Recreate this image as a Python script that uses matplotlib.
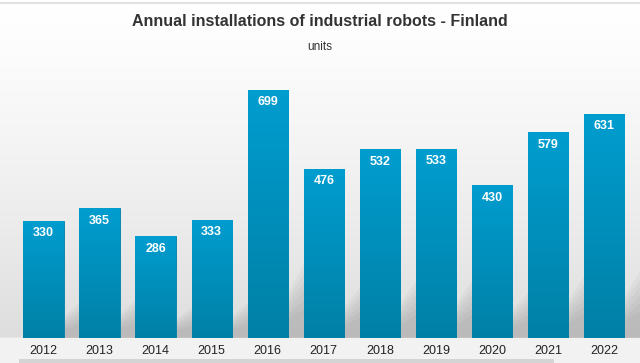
import numpy as np
import matplotlib.pyplot as plt
from matplotlib.patches import Polygon

plt.rcParams['font.family'] = ['Liberation Sans', 'DejaVu Sans']

years = ['2012', '2013', '2014', '2015', '2016', '2017', '2018', '2019', '2020', '2021', '2022']
units = [330, 365, 286, 333, 699, 476, 532, 533, 430, 579, 631]

title = 'Annual installations of industrial robots - Finland'
subtitle = 'units'

fig = plt.figure(figsize=(6.4, 3.63), dpi=100)

# background gradient, white at top to light grey near the bottom
bg = fig.add_axes([0, 0, 1, 1], zorder=0)
g = np.linspace(0, 1, 256)
shade = 1.0 - 0.13 * np.clip(g / 0.93, 0, 1) ** 1.3
shade[g > 0.93] = 0.95
bg_col = np.repeat(shade.reshape(-1, 1, 1), 3, axis=2)
bg.imshow(bg_col, aspect='auto', extent=[0, 1, 0, 1], origin='upper')
bg.plot([0, 1], [0.992, 0.992], color='#e2e2e2', lw=1.5)
bg.fill_between([0.03, 0.865], 0, 0.012, color='#d4d4d4', lw=0)
bg.set_xlim(0, 1)
bg.set_ylim(0, 1)
bg.axis('off')

ax = fig.add_axes([0, 25 / 363, 1, 338 / 363], zorder=1)
ax.patch.set_alpha(0)
x = np.arange(len(years))
w = 0.72
bars = ax.bar(x, units, width=w, color='#0090bf', edgecolor='#007fa6', lw=0.6, zorder=3)

# blue vertical gradient on each bar
t = np.linspace(0, 1, 256)
top = np.array([0x00, 0x9d, 0xcf]) / 255
bot = np.array([0x00, 0x80, 0xa6]) / 255
bar_col = (top + (bot - top) * t[:, None]).reshape(256, 1, 3)
for b in bars:
    x0, h = b.get_x(), b.get_height()
    im = ax.imshow(bar_col, aspect='auto', extent=[x0, x0 + w, 0, h],
                   origin='upper', zorder=3.5)
    im.set_clip_path(b)

# soft shadows cast to the right of each bar
gap = 1 - w
for b in bars:
    x1 = b.get_x() + w
    h = b.get_height()
    ya, yb = 0.18 * h, 0.32 * h
    for k in range(6):
        s = 1 - 0.12 * k
        poly = Polygon([(x1, 0), (x1, ya * s), (x1 + gap * 1.2, yb * s), (x1 + gap * 1.2, 0)],
                       closed=True, color='#707070', alpha=0.06, lw=0, zorder=2)
        ax.add_patch(poly)

for xi, v in zip(x, units):
    ax.text(xi, v - 18, str(v), ha='center', va='top', color='white',
            fontsize=9, fontweight='bold', zorder=5)

ax.set_xlim(-0.776, 10.64)
ax.set_ylim(0, 952)
ax.set_xticks(x)
ax.set_xticklabels(years, fontsize=9, color='#222222')
ax.tick_params(axis='x', length=0, pad=5)
ax.set_yticks([])
for s in ax.spines.values():
    s.set_visible(False)

fig.text(0.5, 1 - 21 / 363, title, ha='center', va='center', fontsize=11.5,
         fontweight='bold', color='#333333')
fig.text(0.5, 1 - 47 / 363, subtitle, ha='center', va='center', fontsize=8.5, color='#333333')

fig.savefig('out.png', dpi=100)
